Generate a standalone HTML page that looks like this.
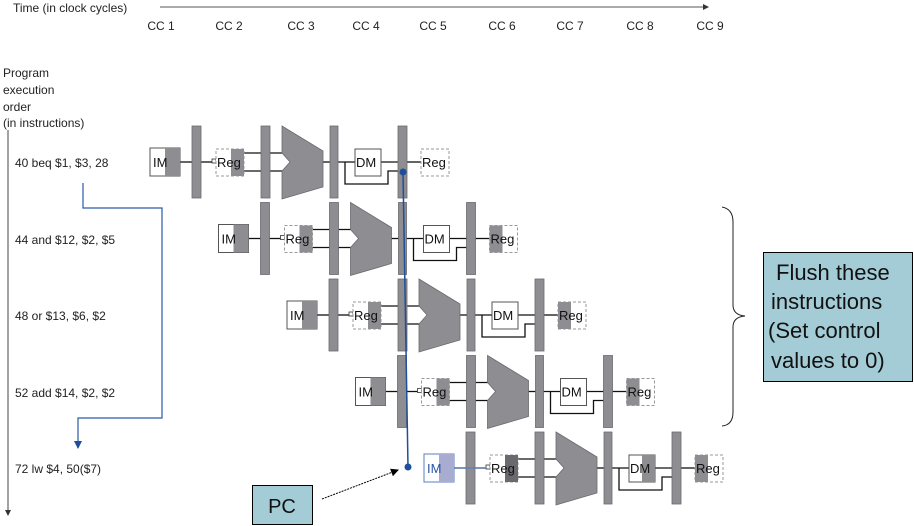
<!DOCTYPE html>
<html><head><meta charset="utf-8"><style>
body{margin:0;background:#fff}
svg{display:block;font-family:"Liberation Sans",Arial,sans-serif}
</style></head><body>
<svg width="914" height="526" viewBox="0 0 914 526" xmlns="http://www.w3.org/2000/svg">
<defs>
<marker id="ah" markerWidth="8" markerHeight="8" refX="7" refY="4" orient="auto" markerUnits="userSpaceOnUse"><path d="M0,0 L8,4 L0,8 z" fill="#000"/></marker>
<marker id="ahb" markerWidth="8" markerHeight="8" refX="7" refY="4" orient="auto" markerUnits="userSpaceOnUse"><path d="M0,0 L8,4 L0,8 z" fill="#1f4e9a"/></marker>
<marker id="ahs" markerWidth="6" markerHeight="6" refX="5" refY="3" orient="auto" markerUnits="userSpaceOnUse"><path d="M0,0 L6,3 L0,6 z" fill="#333"/></marker>
<g id="row">
<g stroke="#111" stroke-width="1.3" fill="none">
<line x1="180" y1="162" x2="192" y2="162"/>
<line x1="201" y1="162" x2="212" y2="162"/>
<line x1="244" y1="153" x2="290" y2="153"/>
<line x1="244" y1="171" x2="290" y2="171"/>
<line x1="323" y1="162" x2="330" y2="162"/>
<line x1="338" y1="162" x2="355" y2="162"/>
<line x1="381" y1="162" x2="398" y2="162"/>
<polyline points="345,162 345,184 388,184 388,171 398,171"/>
<line x1="407" y1="162" x2="421" y2="162"/>
</g>
<rect x="212" y="159" width="4" height="4" fill="#fff" stroke="#333" stroke-width="0.8"/>
<g fill="#8e8e92" stroke="#6a6a6e" stroke-width="0.8">
<rect x="192" y="126" width="9" height="72"/>
<rect x="261" y="126" width="9" height="72"/>
<rect x="330" y="126" width="8" height="72"/>
<rect x="398" y="126" width="9" height="72"/>
<polygon points="282,126 323,151 323,187 282,199 282,171 290,162 282,153"/>
</g>
</g>
</defs>

<text x="13" y="12" font-size="12" fill="#222">Time (in clock cycles)</text>
<line x1="160" y1="7" x2="708" y2="7" stroke="#555" stroke-width="1" marker-end="url(#ahs)"/>
<g font-size="12" fill="#222" text-anchor="middle">
<text x="161" y="30">CC 1</text><text x="229" y="30">CC 2</text><text x="301" y="30">CC 3</text>
<text x="366" y="30">CC 4</text><text x="433" y="30">CC 5</text><text x="502" y="30">CC 6</text>
<text x="570" y="30">CC 7</text><text x="640" y="30">CC 8</text><text x="710" y="30">CC 9</text>
</g>
<g font-size="12" fill="#222">
<text x="3" y="77">Program</text><text x="3" y="94">execution</text><text x="3" y="111">order</text><text x="3" y="127">(in instructions)</text>
<text x="15" y="167">40 beq $1, $3, 28</text>
<text x="15" y="244">44 and $12, $2, $5</text>
<text x="15" y="320">48 or $13, $6, $2</text>
<text x="15" y="397">52 add $14, $2, $2</text>
<text x="15" y="473">72 lw $4, 50($7)</text>
</g>
<line x1="8" y1="130" x2="8" y2="515" stroke="#444" stroke-width="1" marker-end="url(#ahs)"/>

<use href="#row"/>
<use href="#row" transform="translate(68.5,76.5)"/>
<use href="#row" transform="translate(137,153)"/>
<use href="#row" transform="translate(205.5,229.5)"/>
<use href="#row" transform="translate(274,306)"/>

<g font-size="13" fill="#111" stroke-width="1">
<rect x="150" y="148" width="30" height="28" fill="#fff" stroke="#555"/><rect x="165" y="148" width="15" height="28" fill="#8e8e92"/>
<text x="153" y="167">IM</text>
<rect x="216" y="149" width="28" height="27" fill="#fff" stroke="#999" stroke-dasharray="3,2"/><rect x="231" y="149" width="13" height="27" fill="#8e8e92"/>
<text x="217" y="167">Reg</text>
<rect x="355" y="149" width="26" height="27" fill="#fff" stroke="#555"/><text x="356" y="167">DM</text>
<rect x="421" y="149" width="28" height="27" fill="#fff" stroke="#999" stroke-dasharray="3,2"/><text x="422" y="167">Reg</text>
</g>
<g font-size="13" fill="#111" transform="translate(68.5,76.5)">
<rect x="150" y="148" width="30" height="28" fill="#fff" stroke="#555"/><rect x="165" y="148" width="15" height="28" fill="#8e8e92"/>
<text x="153" y="167">IM</text>
<rect x="216" y="149" width="28" height="27" fill="#fff" stroke="#999" stroke-dasharray="3,2"/><rect x="231" y="149" width="13" height="27" fill="#8e8e92"/>
<text x="217" y="167">Reg</text>
<rect x="355" y="149" width="26" height="27" fill="#fff" stroke="#555"/><text x="356" y="167">DM</text>
<rect x="421" y="149" width="28" height="27" fill="#fff" stroke="#999" stroke-dasharray="3,2"/><rect x="421" y="149" width="13" height="27" fill="#8e8e92"/><text x="422" y="167">Reg</text>
</g>
<g font-size="13" fill="#111" transform="translate(137,153)">
<rect x="150" y="148" width="30" height="28" fill="#fff" stroke="#555"/><rect x="165" y="148" width="15" height="28" fill="#8e8e92"/>
<text x="153" y="167">IM</text>
<rect x="216" y="149" width="28" height="27" fill="#fff" stroke="#999" stroke-dasharray="3,2"/><rect x="231" y="149" width="13" height="27" fill="#8e8e92"/>
<text x="217" y="167">Reg</text>
<rect x="355" y="149" width="26" height="27" fill="#fff" stroke="#555"/><text x="356" y="167">DM</text>
<rect x="421" y="149" width="28" height="27" fill="#fff" stroke="#999" stroke-dasharray="3,2"/><rect x="421" y="149" width="13" height="27" fill="#8e8e92"/><text x="422" y="167">Reg</text>
</g>
<g font-size="13" fill="#111" transform="translate(205.5,229.5)">
<rect x="150" y="148" width="30" height="28" fill="#fff" stroke="#555"/><rect x="165" y="148" width="15" height="28" fill="#8e8e92"/>
<text x="153" y="167">IM</text>
<rect x="216" y="149" width="28" height="27" fill="#fff" stroke="#999" stroke-dasharray="3,2"/><rect x="231" y="149" width="13" height="27" fill="#8e8e92"/>
<text x="217" y="167">Reg</text>
<rect x="355" y="149" width="26" height="27" fill="#fff" stroke="#555"/><text x="356" y="167">DM</text>
<rect x="421" y="149" width="28" height="27" fill="#fff" stroke="#999" stroke-dasharray="3,2"/><rect x="421" y="149" width="13" height="27" fill="#8e8e92"/><text x="422" y="167">Reg</text>
</g>
<g font-size="13" fill="#111" transform="translate(274,306)">
<rect x="150" y="148" width="30" height="28" fill="#fff" stroke="#5a7fc0"/><rect x="165" y="148" width="15" height="28" fill="#a8acd0"/>
<text x="153" y="167" fill="#2a55a0">IM</text>
<line x1="180" y1="162" x2="212" y2="162" stroke="#5a7fc0" stroke-width="1.3"/>
<rect x="216" y="149" width="28" height="27" fill="#fff" stroke="#999" stroke-dasharray="3,2"/><rect x="231" y="149" width="13" height="27" fill="#6a6a6e"/>
<text x="217" y="167">Reg</text>
<rect x="355" y="149" width="26" height="27" fill="#fff" stroke="#555"/><rect x="368" y="149" width="13" height="27" fill="#8e8e92"/><text x="356" y="167">DM</text>
<rect x="421" y="149" width="28" height="27" fill="#fff" stroke="#999" stroke-dasharray="3,2"/><rect x="421" y="149" width="13" height="27" fill="#8e8e92"/><text x="422" y="167">Reg</text>
</g>

<polyline points="83,183 83,208 162,208 162,418 78,418 78,448" fill="none" stroke="#2a5aa8" stroke-width="1.2" marker-end="url(#ahb)"/>
<line x1="403" y1="172" x2="408" y2="467" stroke="#1f4e9a" stroke-width="1.5"/>
<circle cx="403" cy="172" r="3.5" fill="#1f4e9a"/>
<circle cx="408" cy="467" r="3.5" fill="#1f4e9a"/>

<rect x="252.5" y="485.5" width="60" height="39" fill="#a4ccd6" stroke="#000"/>
<text x="282" y="513" font-size="20" text-anchor="middle" fill="#111">PC</text>
<line x1="322" y1="499" x2="398" y2="470" stroke="#000" stroke-width="1" stroke-dasharray="2,1" marker-end="url(#ah)"/>

<path d="M722,207 Q733,209 733,222 L733,305 Q733,315 745,316 Q733,317 733,327 L733,412 Q733,425 722,426" fill="none" stroke="#222" stroke-width="1"/>

<rect x="763.5" y="252.5" width="149" height="129" fill="#a4ccd6" stroke="#000"/>
<g font-size="22" fill="#111">
<text x="776" y="280">Flush these</text>
<text x="771" y="309">instructions</text>
<text x="768" y="338">(Set control</text>
<text x="771" y="368">values to 0)</text>
</g>
</svg>
</body></html>
